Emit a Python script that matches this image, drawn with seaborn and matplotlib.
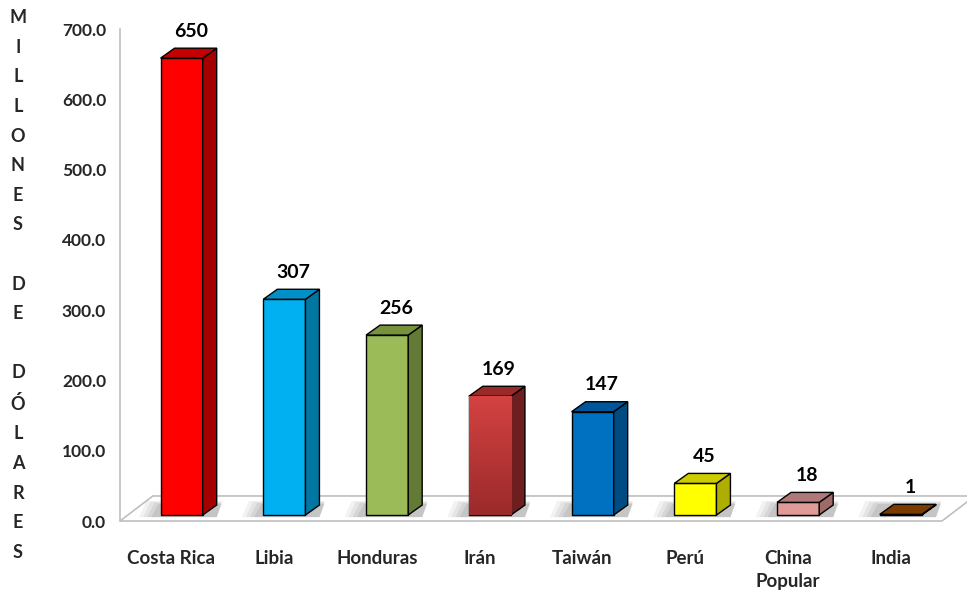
import seaborn as sns
import matplotlib.pyplot as plt
from matplotlib.patches import Polygon
from matplotlib.colors import LinearSegmentedColormap
import numpy as np

sns.set_style("white")
plt.rcParams['font.family'] = ['Lato', 'DejaVu Sans']

paises = ['Costa Rica', 'Libia', 'Honduras', 'Irán', 'Taiwán', 'Perú', 'China\nPopular', 'India']
valores = [650, 307, 256, 169, 147, 45, 18, 1]
yticks = [0, 100, 200, 300, 400, 500, 600, 700]
ylabel_txt = 'MILLONES DE DÓLARES'

# colores: cara frontal, lateral, superior
frente = ['#FF0000', '#00B0F0', '#9BBB59', '#C0392F', '#0070C0', '#FFFF00', '#E09A98', '#7F3A05']
lado = ['#A50000', '#0077A3', '#637A36', '#6E1E1E', '#004C82', '#AEAE00', '#A06A68', '#5A2A00']
arriba = ['#C40000', '#0090C8', '#76923C', '#9A2A2A', '#00569A', '#CCCC00', '#B07878', '#7A3A00']
degradado = {3: ('#D44242', '#9B2A2A')}

fig = plt.figure(figsize=(9.67, 5.92), dpi=100)
ax = fig.add_axes([120 / 967, 71 / 592, 822 / 967, 492 / 592])

sns.barplot(x=paises, y=valores, hue=paises, palette=frente, width=0.41,
            legend=False, ax=ax, edgecolor='black', linewidth=1, saturation=1, zorder=5)
barras = sorted(ax.patches[:], key=lambda p: p.get_x())

# profundidad en unidades de datos
dx, dy = 0.136, 14.2       # barra
fdx, fdy = 0.32, 35.6      # piso
z0 = 8.5
shift = 0.1

gris = '#BFBFBF'
# piso
piso = Polygon([(-0.5, 0), (7.5, 0), (7.5 + fdx, fdy), (-0.5 + fdx, fdy)],
               closed=True, facecolor='white', edgecolor=gris, lw=1.2, clip_on=False, zorder=1)
ax.add_patch(piso)

for i, p in enumerate(barras):
    v = valores[i]
    x0 = p.get_x() + shift
    w = p.get_width()
    p.set_x(x0)
    p.set_y(z0)
    p.set_height(v)
    p.set_clip_on(False)
    if i in degradado:
        cmap = LinearSegmentedColormap.from_list('g', [degradado[i][1], degradado[i][0]])
        im = ax.imshow(np.linspace(0, 1, 100).reshape(-1, 1), cmap=cmap, origin='lower',
                       extent=(x0, x0 + w, z0, z0 + v), aspect='auto', zorder=5.5)
        im.set_clip_path(p)
        ax.add_patch(Polygon(p.get_verts(), closed=True, fill=False, edgecolor='black', lw=1, zorder=5.6))
    # sombra
    for k, a in enumerate([0.10, 0.12, 0.15, 0.18]):
        e = 0.16 - 0.04 * k
        sh = Polygon([(x0 - e - 0.05, z0 - 3), (x0 + w + dx, z0 - 3),
                      (x0 + w + dx + 0.05, z0 + dy + 6 - 1.5 * k), (x0 - e + 0.02, z0 + dy + 6 - 1.5 * k)],
                     closed=True, facecolor='#808080', edgecolor='none', alpha=a, zorder=2)
        ax.add_patch(sh)
    side = Polygon([(x0 + w, z0), (x0 + w + dx, z0 + dy), (x0 + w + dx, z0 + v + dy), (x0 + w, z0 + v)],
                   closed=True, facecolor=lado[i], edgecolor='black', lw=1, zorder=5, clip_on=False)
    top = Polygon([(x0, z0 + v), (x0 + dx, z0 + v + dy), (x0 + w + dx, z0 + v + dy), (x0 + w, z0 + v)],
                  closed=True, facecolor=arriba[i], edgecolor='black', lw=1, zorder=5, clip_on=False)
    ax.add_patch(side)
    ax.add_patch(top)
    ax.annotate(f'{v}', xy=(x0 + (w + dx) / 2 + 0.02, z0 + v + dy), xytext=(0, 6),
                textcoords='offset points', ha='center', va='bottom',
                fontsize=14, fontweight='bold', color='black', annotation_clip=False)

ax.set_xlim(-0.5, 7.5)
ax.set_ylim(0, 700)

# ejes
for s in ['top', 'right', 'bottom']:
    ax.spines[s].set_visible(False)
ax.spines['left'].set_color(gris)
ax.spines['left'].set_linewidth(1.2)
ax.set_yticks(yticks)
ax.set_yticklabels([f'{t:.1f}' for t in yticks], fontsize=12.5, fontweight='bold')
ax.tick_params(axis='y', length=5, color=gris, width=1.2, pad=5)
ax.set_xticks(range(len(paises)))
ax.set_xticklabels(paises, fontsize=13.5, fontweight='bold', linespacing=1.4)
ax.tick_params(axis='x', length=0, pad=21)
ax.set_xticks(np.arange(-0.5, 8, 1), minor=True)
ax.tick_params(axis='x', which='minor', length=7, color=gris, width=1.2)
for lbl in ax.get_xticklabels():
    lbl.set_verticalalignment('top')

fig.text(18 / 967, 1 - 285 / 592, '\n'.join(ylabel_txt), ha='center', va='center',
         fontsize=13, fontweight='bold', linespacing=1.9)

fig.savefig('out.png', dpi=100)
